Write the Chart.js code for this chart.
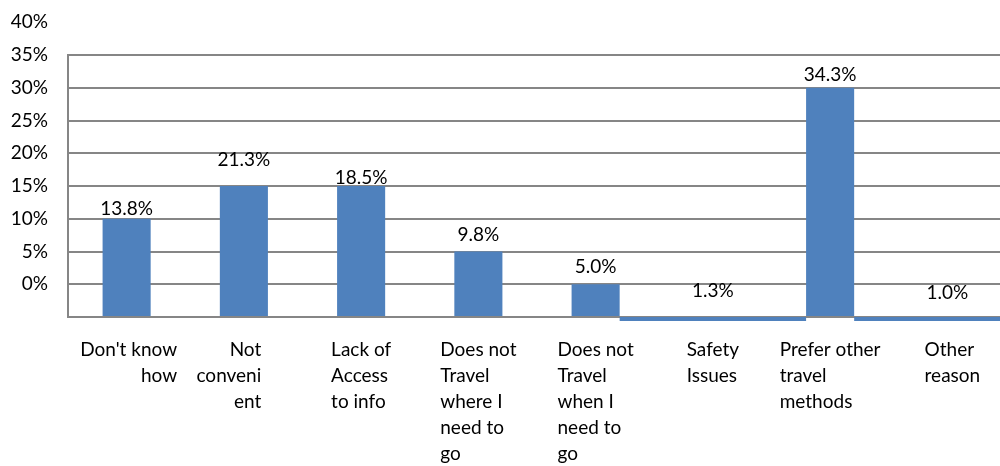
<!DOCTYPE html>
<html>
<head>
<meta charset="utf-8">
<script src="https://cdn.jsdelivr.net/npm/chart.js@4.4.1/dist/chart.umd.min.js"></script>
<style>
    html, body { margin: 0; padding: 0; background: #fff; overflow: hidden; }
</style>
</head>
<body>
<!-- plot runs a few pixels past the right edge of the window, like the original -->
<canvas id="reasonsChart" width="1006" height="466"></canvas>
<script>
// category names, already wrapped the way the picture shows them
const categories = [
    ["Don't know", "how"],
    ["Not", "conveni", "ent"],
    ["Lack of", "Access", "to info"],
    ["Does not", "Travel", "where I", "need to", "go"],
    ["Does not", "Travel", "when I", "need to", "go"],
    ["Safety", "Issues"],
    ["Prefer other", "travel", "methods"],
    ["Other", "reason"]
];

// percentages printed above the bars
const labelValues = [13.8, 21.3, 18.5, 9.8, 5.0, 1.3, 34.3, 1.0];

// bar tops as they are drawn against the axis (they don't follow the printed values)
const barTops = [10, 15, 15, 5, 0, null, 30, null];

// the two small answers only show up as a flat strip under the axis
const stripBars = [null, null, null, null, null, [-5.6, -5], null, [-5.6, -5]];

const yTicks = [-5, 0, 5, 10, 15, 20, 25, 30, 35, 40];

const gridGray = '#868686';
const barBlue = '#4F81BD';
const textFont = '19px Lato';

// x labels: the first two are right aligned, the rest left aligned
const xLabelAlign = ['right', 'right', 'left', 'left', 'left', 'left', 'left', 'left'];
const xLabelNudge = [2, -15, 0, 0, 0, 0, 0, 5];

Chart.defaults.font.family = 'Lato';
Chart.defaults.font.size = 19;
Chart.defaults.color = '#000';

// value labels and wrapped category labels
const labelPlugin = {
    id: 'labelPlugin',
    afterDraw(chart) {
        const {ctx, scales: {x, y}} = chart;
        ctx.save();
        ctx.font = textFont;
        ctx.fillStyle = '#000';
        ctx.textBaseline = 'alphabetic';

        ctx.textAlign = 'center';
        labelValues.forEach((v, i) => {
            ctx.fillText(v.toFixed(1) + '%', x.getPixelForValue(i), y.getPixelForValue(v) + 21);
        });

        categories.forEach((lines, i) => {
            const cx = x.getPixelForValue(i) + xLabelNudge[i];
            const w = Math.max(...lines.map(s => ctx.measureText(s).width));
            const right = xLabelAlign[i] === 'right';
            ctx.textAlign = right ? 'right' : 'left';
            const tx = right ? cx + w / 2 : cx - w / 2;
            lines.forEach((s, j) => {
                ctx.fillText(s, tx, x.top + 39 + j * 26);
            });
        });
        ctx.restore();
    }
};

new Chart(
    document.getElementById('reasonsChart'),
    {
        type: 'bar',
        data: {
            labels: categories,
            datasets: [{
                data: barTops,
                base: -5,
                backgroundColor: barBlue,
                grouped: false,
                categoryPercentage: 1,
                barPercentage: 0.41
            },
            {
                data: stripBars,
                backgroundColor: barBlue,
                grouped: false,
                categoryPercentage: 1,
                barPercentage: 1.59,
                clip: false
            }]
        },
        options: {
            responsive: false,
            animation: false,
            layout: {
                padding: {top: 55, right: 0, left: 0, bottom: 0}
            },
            plugins: {
                legend: {display: false},
                tooltip: {enabled: false}
            },
            scales: {
                x: {
                    grid: {display: false},
                    border: {color: gridGray, width: 2},
                    ticks: {display: false},
                    afterFit: (scale) => { scale.height = 149; }
                },
                y: {
                    min: -5,
                    max: 35,
                    afterBuildTicks: (scale) => {
                        scale.ticks = yTicks.map(v => ({value: v}));
                    },
                    ticks: {
                        autoSkip: false,
                        padding: 20,
                        callback: (value) => value === -5 ? '' : value + '%'
                    },
                    grid: {
                        color: (ctx) => ctx.tick && ctx.tick.value === 40 ? 'rgba(0,0,0,0)' : gridGray,
                        lineWidth: 2,
                        drawTicks: false
                    },
                    border: {color: gridGray, width: 2},
                    afterFit: (scale) => { scale.width = 68; }
                }
            }
        },
        plugins: [labelPlugin]
    }
);
</script>
</body>
</html>
